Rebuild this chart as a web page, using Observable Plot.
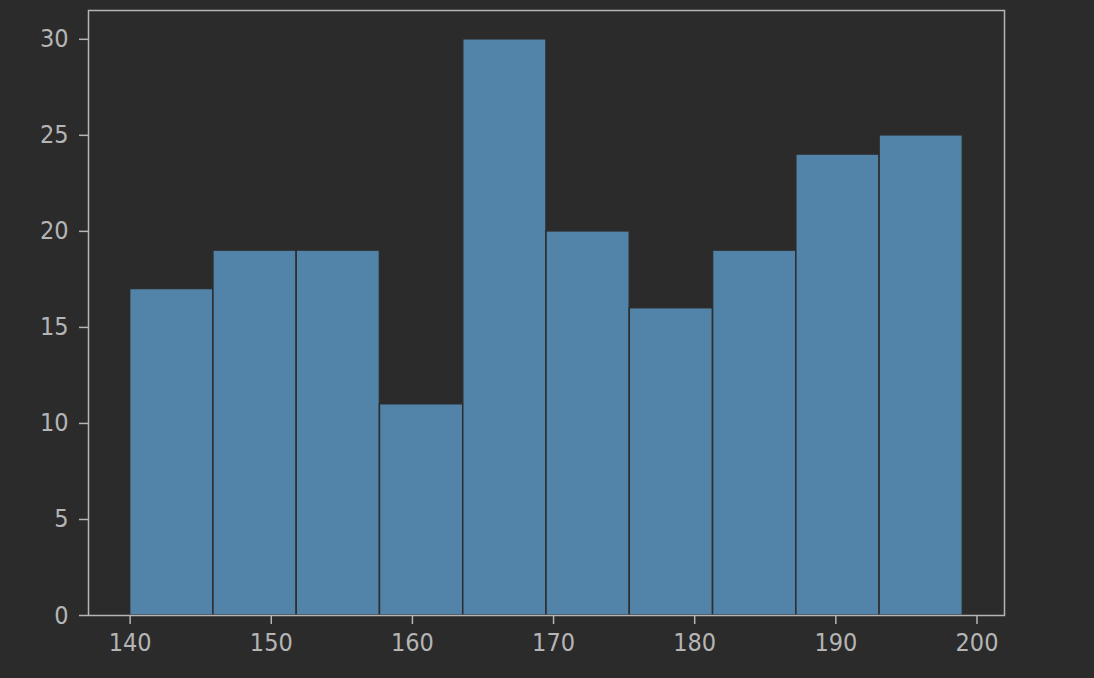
<!DOCTYPE html>
<html>
<head>
<meta charset="utf-8">
<script src="https://cdn.jsdelivr.net/npm/d3@7"></script>
<script src="https://cdn.jsdelivr.net/npm/@observablehq/plot@0.6"></script>
<style>
  html, body { margin: 0; padding: 0; background: #2b2b2b; }
  #chart svg { display: block; }
</style>
</head>
<body>
<div id="chart"></div>
<script>
// Histogram bin edges and counts
const binEdges = [140, 145.9, 151.8, 157.7, 163.6, 169.5, 175.4, 181.3, 187.2, 193.1, 199];
const counts = [17, 19, 19, 11, 30, 20, 16, 19, 24, 25];
const xTicks = [140, 150, 160, 170, 180, 190, 200];
const yTicks = [0, 5, 10, 15, 20, 25, 30];

const bins = counts.map((c, i) => ({x1: binEdges[i], x2: binEdges[i + 1], count: c}));

const axisColor = "#b5b5b5";

const chart = Plot.plot({
  width: 1094,
  height: 678,
  marginLeft: 88,
  marginRight: 90,
  marginTop: 10,
  marginBottom: 63,
  style: {
    background: "#2b2b2b",
    color: axisColor,
    fontFamily: "'Liberation Sans Narrow', 'DejaVu Sans Condensed', sans-serif",
    fontSize: "25px"
  },
  x: {domain: [137.05, 201.95]},
  y: {domain: [0, 31.5]},
  marks: [
    Plot.rectY(bins, {x1: "x1", x2: "x2", y: "count", fill: "#5283a8", stroke: "#2d2d2d", strokeWidth: 1.5}),
    Plot.frame({stroke: axisColor, strokeWidth: 1.5}),
    Plot.axisX(xTicks, {tickSize: 9, tickPadding: 9, stroke: axisColor, fill: axisColor, strokeWidth: 1.5, label: null, fontSize: 25}),
    Plot.axisY(yTicks, {tickSize: 9, tickPadding: 11, stroke: axisColor, fill: axisColor, strokeWidth: 1.5, label: null, fontSize: 25})
  ]
});
document.getElementById("chart").appendChild(chart);
</script>
</body>
</html>
